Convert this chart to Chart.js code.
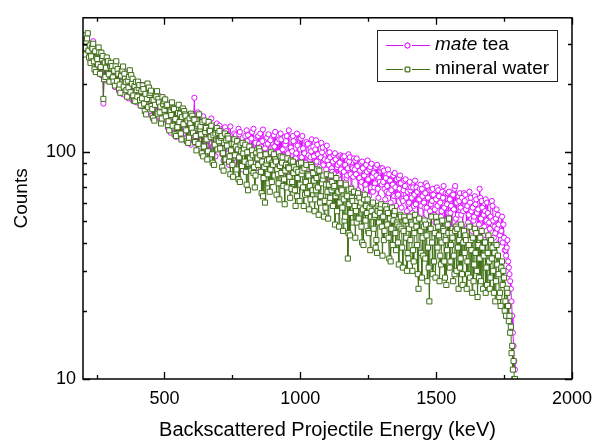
<!DOCTYPE html>
<html><head><meta charset="utf-8">
<script src="https://cdn.jsdelivr.net/npm/chart.js@4.4.1/dist/chart.umd.min.js"></script>
<style>html,body{margin:0;padding:0;background:#fff}canvas{display:block}</style>
</head><body>
<canvas id="c" width="601" height="441"></canvas>
<script>
// Energy channels (keV), whole-step set
const energyA = [
205,210,215,220,225,230,235,240,245,250,255,260,265,270,275,280,285,290,295,300,
305,310,315,320,325,330,335,340,345,350,355,360,365,370,375,380,385,390,395,400,
405,410,415,420,425,430,435,440,445,450,455,460,465,470,475,480,485,490,495,500,
505,510,515,520,525,530,535,540,545,550,555,560,565,570,575,580,585,590,595,600,
605,610,615,620,625,630,635,640,645,650,655,660,665,670,675,680,685,690,695,700,
705,710,715,720,725,730,735,740,745,750,755,760,765,770,775,780,785,790,795,800,
805,810,815,820,825,830,835,840,845,850,855,860,865,870,875,880,885,890,895,900,
905,910,915,920,925,930,935,940,945,950,955,960,965,970,975,980,985,990,995,1000,
1005,1010,1015,1020,1025,1030,1035,1040,1045,1050,1055,1060,1065,1070,1075,1080,1085,1090,1095,1100,
1105,1110,1115,1120,1125,1130,1135,1140,1145,1150,1155,1160,1165,1170,1175,1180,1185,1190,1195,1200,
1205,1210,1215,1220,1225,1230,1235,1240,1245,1250,1255,1260,1265,1270,1275,1280,1285,1290,1295,1300,
1305,1310,1315,1320,1325,1330,1335,1340,1345,1350,1355,1360,1365,1370,1375,1380,1385,1390,1395,1400,
1405,1410,1415,1420,1425,1430,1435,1440,1445,1450,1455,1460,1465,1470,1475,1480,1485,1490,1495,1500,
1505,1510,1515,1520,1525,1530,1535,1540,1545,1550,1555,1560,1565,1570,1575,1580,1585,1590,1595,1600,
1605,1610,1615,1620,1625,1630,1635,1640,1645,1650,1655,1660,1665,1670,1675,1680,1685,1690,1695,1700,
1705,1710,1715,1720,1725,1730,1735,1740,1745,1750,1755,1760,1765,1770,1775,1780,1785,1790
];
// Energy channels (keV), half-step set
const energyB = [
207.5,212.5,217.5,222.5,227.5,232.5,237.5,242.5,247.5,252.5,257.5,262.5,267.5,272.5,277.5,282.5,287.5,292.5,297.5,
302.5,307.5,312.5,317.5,322.5,327.5,332.5,337.5,342.5,347.5,352.5,357.5,362.5,367.5,372.5,377.5,382.5,387.5,392.5,397.5,
402.5,407.5,412.5,417.5,422.5,427.5,432.5,437.5,442.5,447.5,452.5,457.5,462.5,467.5,472.5,477.5,482.5,487.5,492.5,497.5,
502.5,507.5,512.5,517.5,522.5,527.5,532.5,537.5,542.5,547.5,552.5,557.5,562.5,567.5,572.5,577.5,582.5,587.5,592.5,597.5,
602.5,607.5,612.5,617.5,622.5,627.5,632.5,637.5,642.5,647.5,652.5,657.5,662.5,667.5,672.5,677.5,682.5,687.5,692.5,697.5,
702.5,707.5,712.5,717.5,722.5,727.5,732.5,737.5,742.5,747.5,752.5,757.5,762.5,767.5,772.5,777.5,782.5,787.5,792.5,797.5,
802.5,807.5,812.5,817.5,822.5,827.5,832.5,837.5,842.5,847.5,852.5,857.5,862.5,867.5,872.5,877.5,882.5,887.5,892.5,897.5,
902.5,907.5,912.5,917.5,922.5,927.5,932.5,937.5,942.5,947.5,952.5,957.5,962.5,967.5,972.5,977.5,982.5,987.5,992.5,997.5,
1002.5,1007.5,1012.5,1017.5,1022.5,1027.5,1032.5,1037.5,1042.5,1047.5,1052.5,1057.5,1062.5,1067.5,1072.5,1077.5,1082.5,1087.5,1092.5,1097.5,
1102.5,1107.5,1112.5,1117.5,1122.5,1127.5,1132.5,1137.5,1142.5,1147.5,1152.5,1157.5,1162.5,1167.5,1172.5,1177.5,1182.5,1187.5,1192.5,1197.5,
1202.5,1207.5,1212.5,1217.5,1222.5,1227.5,1232.5,1237.5,1242.5,1247.5,1252.5,1257.5,1262.5,1267.5,1272.5,1277.5,1282.5,1287.5,1292.5,1297.5,
1302.5,1307.5,1312.5,1317.5,1322.5,1327.5,1332.5,1337.5,1342.5,1347.5,1352.5,1357.5,1362.5,1367.5,1372.5,1377.5,1382.5,1387.5,1392.5,1397.5,
1402.5,1407.5,1412.5,1417.5,1422.5,1427.5,1432.5,1437.5,1442.5,1447.5,1452.5,1457.5,1462.5,1467.5,1472.5,1477.5,1482.5,1487.5,1492.5,1497.5,
1502.5,1507.5,1512.5,1517.5,1522.5,1527.5,1532.5,1537.5,1542.5,1547.5,1552.5,1557.5,1562.5,1567.5,1572.5,1577.5,1582.5,1587.5,1592.5,1597.5,
1602.5,1607.5,1612.5,1617.5,1622.5,1627.5,1632.5,1637.5,1642.5,1647.5,1652.5,1657.5,1662.5,1667.5,1672.5,1677.5,1682.5,1687.5,1692.5,1697.5,
1702.5,1707.5,1712.5,1717.5,1722.5,1727.5,1732.5,1737.5,1742.5,1747.5,1752.5,1757.5,1762.5,1767.5,1772.5,1777.5,1782.5,1787.5
];
// Counts, mate tea (whole-step channels)
const mateTeaA = [
318,322,284,305,271,292,276,263,289,248,270,251,266,236,164,242,258,224,245,229,
221,239,208,226,213,201,232,205,190,217,198,209,185,200,212,181,196,171,190,199,
178,193,169,182,160,175,188,166,152,171,180,158,149,168,161,144,170,157,139,160,
155,139,148,134,157,143,128,150,138,124,145,132,119,140,127,136,121,133,115,129,
135,174,126,117,133,121,112,128,118,131,107,122,115,127,110,120,113,104,121,116,
109,122,113,104,117,108,99,119,111,102,114,106,97,112,120,101,109,95,111,104,
112,99,107,115,101,94,110,103,118,98,106,112,95,104,99,109,93,113,102,96,
106,97,111,100,92,114,103,96,108,118,99,91,105,101,112,94,99,107,90,103,
95,104,99,90,108,97,93,101,87,96,103,91,98,86,95,100,88,93,84,92,
88,95,85,91,80,93,86,79,90,84,96,82,88,77,85,91,80,86,78,84,
80,87,77,83,74,85,79,72,82,76,84,70,78,81,73,79,69,77,83,72,
74,69,77,71,66,75,68,72,64,70,76,65,69,73,62,68,71,63,67,60,
68,63,70,65,59,67,62,69,58,64,60,66,57,63,68,59,61,65,56,62,
58,64,60,55,63,57,66,59,54,62,58,65,56,71,60,53,61,57,63,55,
61,56,58,53,60,55,57,52,59,54,56,69,51,57,53,55,50,54,49,52,
61,50,47,51,46,48,43,45,40,42,37,38,33,29,25,19,14,11
];
// Counts, mate tea (half-step channels)
const mateTeaB = [
281,300,334,265,252,284,309,240,229,270,277,233,219,263,255,212,207,248,216,
246,236,203,194,249,228,186,214,235,180,188,221,226,173,207,214,170,183,205,166,
203,194,160,172,198,186,150,164,191,179,145,185,174,141,151,178,169,136,147,172,
169,163,128,145,122,158,153,136,117,149,155,128,114,146,150,121,111,142,119,108,
147,142,110,119,150,139,106,113,144,135,103,122,133,99,141,129,102,96,134,125,
131,126,98,92,129,124,115,88,130,101,94,121,119,86,127,123,91,84,105,118,
125,119,93,88,123,127,98,85,117,109,121,82,126,96,91,116,120,80,104,87,
119,123,86,92,114,121,83,97,117,112,80,125,88,116,118,84,94,121,82,115,
115,118,82,89,111,109,80,95,114,106,78,113,108,84,77,110,105,92,76,107,
99,100,75,82,97,99,73,88,96,97,71,95,96,74,79,98,95,70,85,94,
92,94,68,77,90,91,66,72,88,92,64,86,89,67,70,86,88,63,74,85,
85,83,62,67,84,80,60,72,79,81,58,64,77,79,57,61,75,76,55,59,
74,70,54,58,75,70,52,62,72,69,51,57,73,71,50,55,68,69,53,49,
70,68,48,52,67,71,50,47,66,67,54,46,65,69,51,48,64,66,53,47,
66,65,46,49,67,63,45,50,64,62,44,48,63,61,43,47,62,60,42,46,
60,58,42,44,56,53,40,41,52,48,37,35,41,31,27,22,16,12
];
// Counts, mineral water (whole-step channels)
const mineralWaterA = [
328,289,318,281,296,265,287,252,279,261,244,276,238,259,172,249,236,251,221,240,
236,214,229,241,206,222,199,218,230,195,211,188,207,215,184,201,178,196,204,176,
192,170,186,197,164,181,172,158,179,187,155,170,162,176,148,166,159,141,163,154,
144,162,137,153,146,131,155,140,128,149,136,121,143,133,147,125,138,116,134,128,
122,139,118,131,109,127,120,136,106,123,114,101,125,117,98,119,108,126,103,112,
104,118,99,110,93,107,115,96,102,88,109,97,84,103,95,108,87,99,91,82,
100,89,94,83,97,86,79,95,88,101,82,91,77,60,89,80,93,84,74,88,
79,91,84,73,87,81,95,76,83,70,86,78,92,74,81,68,84,77,89,72,
80,70,85,74,66,79,71,88,68,75,62,77,70,83,64,73,79,61,72,67,
72,63,68,58,71,64,55,67,60,69,57,62,52,65,34,59,54,63,49,58,
55,61,51,58,47,56,62,50,54,45,57,52,59,46,53,41,55,49,57,47,
52,45,55,48,42,51,46,39,53,44,49,40,47,52,38,45,50,42,36,46,
41,48,37,44,50,39,25,45,36,42,47,34,43,38,22,46,40,33,44,52,
38,43,35,40,46,33,41,37,44,31,39,42,35,45,30,38,41,34,29,40,
36,41,33,39,28,37,42,32,36,30,39,34,27,38,35,40,31,36,33,28,
34,30,36,27,32,29,24,31,26,28,22,25,21,19,17,14,12,10
];
// Counts, mineral water (half-step channels)
const mineralWaterB = [
270,305,335,262,248,290,301,232,226,258,290,222,275,266,210,215,262,252,205,
248,240,205,197,252,233,191,183,228,239,222,204,176,193,230,219,211,169,168,188,
205,198,161,173,190,152,147,201,193,183,160,142,138,178,186,172,150,134,175,168,
171,160,132,125,151,166,157,120,118,129,162,148,114,156,152,145,112,110,141,148,
145,140,111,102,133,147,130,99,96,138,128,93,136,124,131,90,88,121,128,122,
124,116,86,83,121,113,118,91,80,109,78,114,106,112,76,74,101,110,104,108,
72,68,106,90,102,81,70,99,94,104,97,66,64,86,98,92,73,67,100,90,
98,93,65,80,62,96,90,71,59,88,94,85,63,69,91,86,58,64,82,61,
90,83,58,65,88,80,56,62,86,81,55,68,84,53,60,78,76,52,57,80,
51,60,79,74,70,48,77,66,47,73,68,45,50,72,64,44,43,69,61,67,
42,49,66,63,60,40,39,65,58,62,44,37,55,60,52,38,36,58,54,59,
35,41,58,56,54,34,33,57,50,55,37,48,32,53,46,31,52,50,30,34,
52,49,30,33,53,47,29,51,45,28,35,50,48,27,31,46,52,29,33,28,
49,47,27,32,50,45,28,26,48,51,33,44,27,29,47,46,25,31,48,26,
45,43,25,29,47,41,24,27,46,44,23,28,42,45,25,40,24,26,43,25,
41,38,24,22,39,35,23,21,33,30,20,19,24,18,16,13,11,10
];
const seriesNames = ['mate tea', 'mineral water'];
const xTickValues = [250,500,750,1000,1250,1500,1750,2000];
const xTickLabels = ['', '500', '', '1000', '', '1500', '', '2000'];
const yTickValues = [10,20,30,40,50,60,70,80,90,100,200,300];
const yTickLabels = ['10','','','','','','','','','100','',''];

const MAGENTA = '#dd11ff';
const GREEN = '#3f6f16';
const FONT = '"Liberation Sans", Arial, Helvetica, sans-serif';

const framePlugin = {
  id: 'frame',
  afterDraw(chart) {
    const ctx = chart.ctx, a = chart.chartArea;
    const xs = chart.scales.x, ys = chart.scales.y;
    ctx.save();
    ctx.strokeStyle = '#000';
    ctx.lineWidth = 1.5;
    ctx.strokeRect(a.left, a.top, a.right - a.left, a.bottom - a.top);
    ctx.lineWidth = 1.3;
    ctx.beginPath();
    xTickValues.forEach(v => {
      const px = Math.round(xs.getPixelForValue(v)) + 0.5;
      const len = (v % 500 === 0) ? 7 : 4;
      ctx.moveTo(px, a.bottom); ctx.lineTo(px, a.bottom - len);
      ctx.moveTo(px, a.top); ctx.lineTo(px, a.top + len);
    });
    yTickValues.forEach(v => {
      const py = Math.round(ys.getPixelForValue(v)) + 0.5;
      const len = (v === 10 || v === 100) ? 7 : 4;
      ctx.moveTo(a.left, py); ctx.lineTo(a.left + len, py);
      ctx.moveTo(a.right, py); ctx.lineTo(a.right - len, py);
    });
    ctx.stroke();

    // legend
    const lx = 377, ly = 30, lw = 180, lh = 51;
    ctx.fillStyle = '#fff';
    ctx.fillRect(lx, ly, lw, lh);
    ctx.lineWidth = 1;
    ctx.strokeStyle = '#222';
    ctx.strokeRect(lx + 0.5, ly + 0.5, lw, lh);
    const rows = [
      {y: 45, color: MAGENTA, style: 'circle', r: 2.5},
      {y: 69, color: GREEN, style: 'rect', r: 3.2}
    ];
    rows.forEach((row) => {
      ctx.strokeStyle = row.color;
      ctx.lineWidth = 1;
      ctx.beginPath();
      ctx.moveTo(386, row.y + 0.5); ctx.lineTo(403, row.y + 0.5);
      ctx.moveTo(412, row.y + 0.5); ctx.lineTo(430, row.y + 0.5);
      ctx.stroke();
      Chart.helpers.drawPoint(ctx, {pointStyle: row.style, radius: row.r, borderWidth: 1}, 407.5, row.y + 0.5);
      ctx.fillStyle = '#fff';
      ctx.fill();
      ctx.stroke();
    });
    ctx.fillStyle = '#000';
    ctx.textBaseline = 'middle';
    ctx.textAlign = 'left';
    ctx.font = 'italic 19px ' + FONT;
    const nameParts = seriesNames[0].split(' ');
    ctx.fillText(nameParts[0], 435, 45);
    const w = ctx.measureText(nameParts[0]).width;
    ctx.font = '19px ' + FONT;
    ctx.fillText(' ' + nameParts.slice(1).join(' '), 435 + w, 45);
    ctx.fillText(seriesNames[1], 435, 69);
    ctx.restore();
  }
};

const mk = (EA, VA, EB, VB) =>
  EA.map((e, i) => ({x: e, y: VA[i]}))
    .concat(EB.map((e, i) => ({x: e, y: VB[i]})))
    .sort((p, q) => p.x - q.x);

new Chart(document.getElementById('c'), {
  type: 'line',
  data: {
    datasets: [
      {
        label: seriesNames[0], data: mk(energyA, mateTeaA, energyB, mateTeaB), order: 1,
        borderColor: MAGENTA, borderWidth: 1,
        pointStyle: 'circle', pointRadius: 2.6, pointBorderWidth: 1,
        pointBackgroundColor: '#fff', pointBorderColor: MAGENTA, tension: 0
      },
      {
        label: seriesNames[1], data: mk(energyA, mineralWaterA, energyB, mineralWaterB), order: 0,
        borderColor: GREEN, borderWidth: 1,
        pointStyle: 'rect', pointRadius: 3.6, pointBorderWidth: 1,
        pointBackgroundColor: '#fff', pointBorderColor: GREEN, tension: 0
      }
    ]
  },
  options: {
    responsive: false, animation: false, devicePixelRatio: 1,
    layout: {padding: {left: 0, right: 23, top: 14, bottom: 0}},
    plugins: {legend: {display: false}, tooltip: {enabled: false}},
    elements: {line: {fill: false}},
    scales: {
      x: {
        type: 'linear', min: 200, max: 2000,
        grid: {display: false, drawTicks: false},
        border: {display: false},
        afterBuildTicks: s => { s.ticks = xTickValues.map(v => ({value: v})); },
        afterFit: s => { s.height = 62; },
        ticks: {
          autoSkip: false, maxRotation: 0, padding: 9, color: '#000',
          font: {family: FONT, size: 18},
          callback: (v) => xTickLabels[xTickValues.indexOf(v)] ?? ''
        },
        title: {display: true, text: 'Backscattered Projectile Energy (keV)', color: '#000',
          font: {family: FONT, size: 20, lineHeight: 1}, padding: {top: 0, bottom: 1}}
      },
      y: {
        type: 'logarithmic', min: 10, max: 392,
        grid: {display: false, drawTicks: false},
        border: {display: false},
        afterBuildTicks: s => { s.ticks = yTickValues.map(v => ({value: v})); },
        afterFit: s => { s.width = 83; },
        ticks: {
          autoSkip: false, padding: 7, color: '#000',
          font: {family: FONT, size: 18},
          callback: (v) => yTickLabels[yTickValues.indexOf(v)] ?? ''
        },
        title: {display: true, text: 'Counts', color: '#000',
          font: {family: FONT, size: 19, lineHeight: 1.2}, padding: {top: 10, bottom: 0}}
      }
    }
  },
  plugins: [framePlugin]
});
</script>
</body></html>
